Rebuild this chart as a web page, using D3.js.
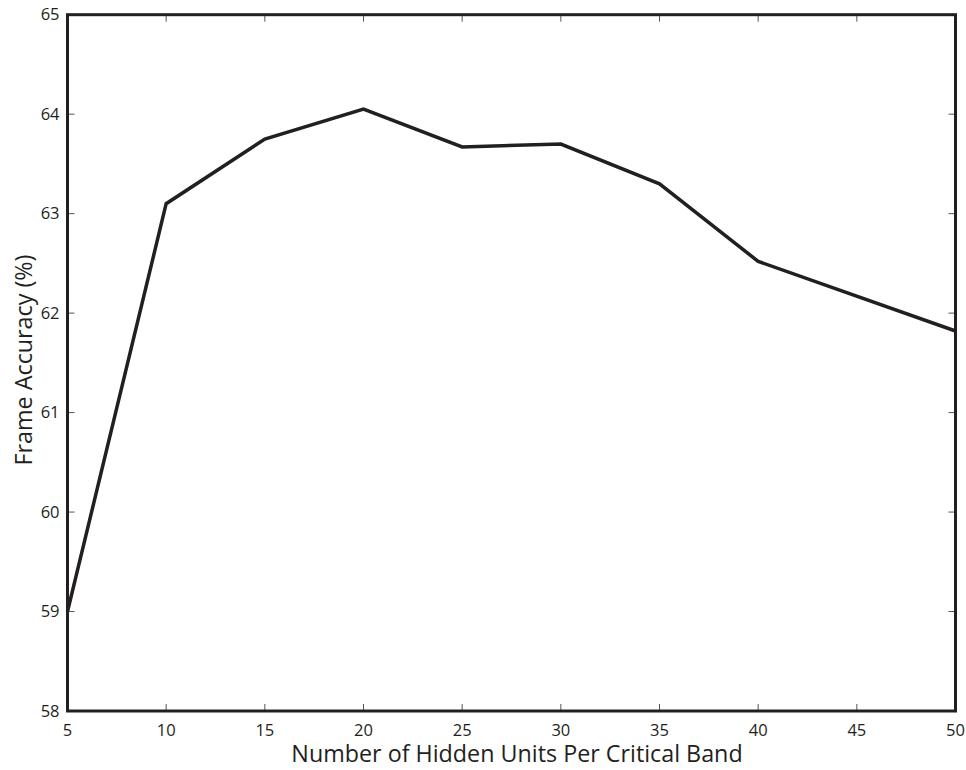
<!DOCTYPE html>
<meta charset="utf-8">
<style>
body { margin: 0; background: #fff; }
text { font-family: "Open Sans", sans-serif; fill: #231f20; }
.tick-label { font-size: 16.5px; }
.axis-title { font-size: 23.3px; }
</style>
<svg width="966" height="770"></svg>
<script src="https://d3js.org/d3.v7.min.js"></script>
<script>

var hiddenUnits = [5, 10, 15, 20, 25, 30, 35, 40, 50];
var frameAccuracy = [59.0, 63.1, 63.75, 64.05, 63.67, 63.7, 63.3, 62.52, 61.82];
var xTicks = [5, 10, 15, 20, 25, 30, 35, 40, 45, 50];
var yTicks = [58, 59, 60, 61, 62, 63, 64, 65];

var svg = d3.select("svg"),
    margin = {top: 14.7, right: 10.5, bottom: 59, left: 67.5},
    width = +svg.attr("width") - margin.left - margin.right,
    height = +svg.attr("height") - margin.top - margin.bottom;

var x = d3.scaleLinear().domain([5, 50]).range([0, width]),
    y = d3.scaleLinear().domain([58, 65]).range([height, 0]);

var g = svg.append("g")
    .attr("transform", "translate(" + margin.left + "," + margin.top + ")");

var tickLen = 7;

// inward ticks on all four sides
g.selectAll(".xtick-b").data(xTicks).enter().append("line")
    .attr("x1", function(d) { return x(d); }).attr("x2", function(d) { return x(d); })
    .attr("y1", height).attr("y2", height - tickLen)
    .attr("stroke", "#555").attr("stroke-width", 1);
g.selectAll(".xtick-t").data(xTicks).enter().append("line")
    .attr("x1", function(d) { return x(d); }).attr("x2", function(d) { return x(d); })
    .attr("y1", 0).attr("y2", tickLen)
    .attr("stroke", "#555").attr("stroke-width", 1);
g.selectAll(".ytick-l").data(yTicks).enter().append("line")
    .attr("x1", 0).attr("x2", tickLen)
    .attr("y1", function(d) { return y(d); }).attr("y2", function(d) { return y(d); })
    .attr("stroke", "#555").attr("stroke-width", 1);
g.selectAll(".ytick-r").data(yTicks).enter().append("line")
    .attr("x1", width).attr("x2", width - tickLen)
    .attr("y1", function(d) { return y(d); }).attr("y2", function(d) { return y(d); })
    .attr("stroke", "#555").attr("stroke-width", 1);

// tick labels
g.selectAll(".xlab").data(xTicks).enter().append("text")
    .attr("class", "tick-label")
    .attr("x", function(d) { return x(d); })
    .attr("y", height + 25)
    .attr("text-anchor", "middle")
    .text(function(d) { return d; });
g.selectAll(".ylab").data(yTicks).enter().append("text")
    .attr("class", "tick-label")
    .attr("x", -8)
    .attr("y", function(d) { return y(d); })
    .attr("dy", "0.35em")
    .attr("text-anchor", "end")
    .text(function(d) { return d; });

var line = d3.line()
    .x(function(d, i) { return x(hiddenUnits[i]); })
    .y(function(d) { return y(d); });

g.append("path")
    .datum(frameAccuracy)
    .attr("fill", "none")
    .attr("stroke", "#231f20")
    .attr("stroke-width", 3.5)
    .attr("stroke-linejoin", "miter")
    .attr("d", line);

// frame
g.append("rect")
    .attr("width", width)
    .attr("height", height)
    .attr("fill", "none")
    .attr("stroke", "#231f20")
    .attr("stroke-width", 3);

svg.append("text")
    .attr("class", "axis-title")
    .attr("x", 517)
    .attr("y", 762)
    .attr("text-anchor", "middle")
    .text("Number of Hidden Units Per Critical Band");

svg.append("text")
    .attr("class", "axis-title")
    .attr("transform", "translate(32," + 360 + ") rotate(-90)")
    .attr("text-anchor", "middle")
    .text("Frame Accuracy (%)");

</script>
